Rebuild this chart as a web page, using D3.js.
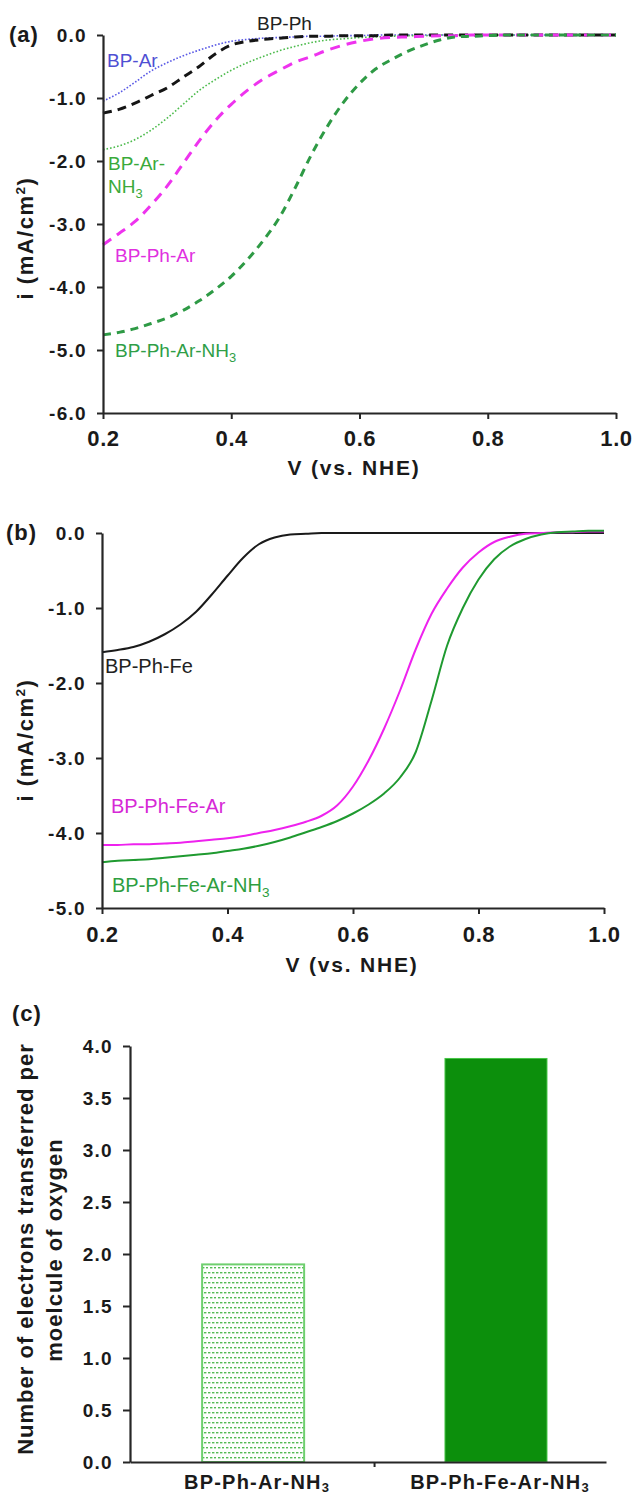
<!DOCTYPE html>
<html>
<head>
<meta charset="utf-8">
<script src="https://cdn.jsdelivr.net/npm/d3@7"></script>
<style>
  body { margin: 0; background: #fff; }
  svg { display: block; }
  text { font-family: Arial, "Liberation Sans", Helvetica, sans-serif; }
</style>
</head>
<body>
<svg id="fig" width="632" height="1496"></svg>
<script>
// ---------- data ----------
// Potential grid (V vs. NHE) shared by all polarisation curves
const voltage = [0.2, 0.225, 0.25, 0.275, 0.3, 0.325, 0.35, 0.375, 0.4, 0.425, 0.45,
  0.475, 0.5, 0.525, 0.55, 0.575, 0.6, 0.625, 0.65, 0.675, 0.7, 0.725, 0.75, 0.775,
  0.8, 0.825, 0.85, 0.875, 0.9, 0.925, 0.95, 0.975, 1.0];

// (a) current density, mA/cm2
const iBpPh = [-1.24, -1.18, -1.08, -0.96, -0.84, -0.67, -0.50, -0.30, -0.16, -0.10, -0.07,
  -0.05, -0.03, -0.02, -0.02, -0.01, -0.01, -0.01, 0, 0, 0, 0, 0, 0, 0, 0, 0, 0, 0, 0, 0, 0, 0];
const iBpAr = [-1.05, -0.92, -0.75, -0.57, -0.44, -0.33, -0.24, -0.16, -0.10, -0.07, -0.05,
  -0.04, -0.03, -0.02, -0.02, -0.01, -0.01, 0, 0, 0, 0, 0, 0, 0, 0, 0, 0, 0, 0, 0, 0, 0, 0];
const iBpArNH3 = [-1.82, -1.76, -1.66, -1.51, -1.32, -1.10, -0.88, -0.71, -0.56, -0.44, -0.34,
  -0.25, -0.18, -0.12, -0.08, -0.06, -0.04, -0.03, -0.02, -0.01, -0.01, 0, 0, 0, 0, 0, 0, 0, 0, 0, 0, 0, 0];
const iBpPhAr = [-3.33, -3.15, -2.96, -2.70, -2.40, -2.04, -1.68, -1.36, -1.10, -0.88, -0.70,
  -0.56, -0.43, -0.34, -0.24, -0.16, -0.10, -0.06, -0.04, -0.03, -0.02, -0.01, -0.01, 0, 0, 0, 0, 0, 0, 0, 0, 0, 0];
const iBpPhArNH3 = [-4.76, -4.72, -4.66, -4.58, -4.49, -4.37, -4.22, -4.04, -3.83, -3.57, -3.26,
  -2.90, -2.42, -1.90, -1.45, -1.07, -0.77, -0.54, -0.39, -0.26, -0.16, -0.08, -0.03, -0.02, -0.01, 0, 0, 0, 0, 0, 0, 0, 0];

// (b) current density, mA/cm2
const iBpPhFe = [-1.59, -1.56, -1.52, -1.45, -1.35, -1.22, -1.05, -0.82, -0.57, -0.33, -0.15,
  -0.06, -0.02, -0.01, 0, 0, 0, 0, 0, 0, 0, 0, 0, 0, 0, 0, 0, 0, 0, 0, 0, 0, 0];
const iBpPhFeAr = [-4.16, -4.16, -4.15, -4.15, -4.14, -4.13, -4.11, -4.09, -4.07, -4.04, -4.00,
  -3.96, -3.91, -3.85, -3.77, -3.63, -3.38, -3.03, -2.60, -2.10, -1.55, -1.08, -0.74, -0.46,
  -0.26, -0.12, -0.05, -0.01, 0, 0.01, 0.01, 0.02, 0.02];
const iBpPhFeArNH3 = [-4.39, -4.37, -4.36, -4.35, -4.33, -4.31, -4.29, -4.27, -4.24, -4.21, -4.17,
  -4.12, -4.06, -3.99, -3.92, -3.84, -3.74, -3.62, -3.47, -3.26, -2.92, -2.24, -1.50, -1.00,
  -0.62, -0.35, -0.18, -0.08, -0.02, 0.01, 0.02, 0.03, 0.03];

// (c) electrons transferred per O2 molecule
const barCategories = ["BP-Ph-Ar-NH3", "BP-Ph-Fe-Ar-NH3"];
const barValues = [1.90, 3.88];

// tick values
const xTicksV = [0.2, 0.4, 0.6, 0.8, 1.0];
const yTicksA = [0, -1, -2, -3, -4, -5, -6];
const yTicksB = [0, -1, -2, -3, -4, -5];
const yTicksC = [0, 0.5, 1, 1.5, 2, 2.5, 3, 3.5, 4];

// ---------- drawing ----------
const svg = d3.select("#fig");
svg.append("rect").attr("width", 632).attr("height", 1496).attr("fill", "#fff");

const AXIS = "#262626";
const fmt1 = d => d.toFixed(1);

function styleAxis(g, fontSize, spacing) {
  g.select(".domain").attr("stroke", AXIS).attr("stroke-width", 2.2);
  g.selectAll(".tick line").attr("stroke", AXIS).attr("stroke-width", 2);
  g.selectAll(".tick text")
    .attr("fill", "#1a1a1a")
    .attr("font-weight", "bold")
    .attr("font-size", fontSize)
    .attr("letter-spacing", spacing + "px")
    .attr("font-family", "Arial, 'Liberation Sans', sans-serif");
}

// text with an optional trailing subscript 3 on NH3
function chemText(sel, label, subSize, subDy) {
  const m = label.match(/^(.*NH)3$/);
  if (m) {
    sel.append("tspan").text(m[1]);
    sel.append("tspan").attr("font-size", subSize).attr("dy", subDy).text("3");
  } else {
    sel.text(label);
  }
  return sel;
}

function yTitle(x, y, size) {
  const t = svg.append("text")
    .attr("transform", `translate(${x},${y}) rotate(-90)`)
    .attr("text-anchor", "middle")
    .attr("font-weight", "bold")
    .attr("font-size", size)
    .attr("letter-spacing", "1.5px")
    .attr("fill", "#1a1a1a");
  t.append("tspan").text("i (mA/cm");
  t.append("tspan").attr("font-size", size * 0.62).attr("dy", -8).text("2");
  t.append("tspan").attr("dy", 8).text(")");
}

function xTitle(x, y) {
  svg.append("text")
    .attr("x", x).attr("y", y)
    .attr("text-anchor", "middle")
    .attr("font-weight", "bold")
    .attr("font-size", 21)
    .attr("letter-spacing", "1.8px")
    .attr("fill", "#1a1a1a")
    .text("V (vs. NHE)");
}

function panelTag(x, y, s) {
  svg.append("text").attr("x", x).attr("y", y)
    .attr("font-weight", "bold").attr("font-size", 22).attr("letter-spacing", "1px")
    .attr("fill", "#1a1a1a").text(s);
}

function curvePanel(cfg) {
  const x = d3.scaleLinear().domain([0.2, 1.0]).range(cfg.xr);
  const y = d3.scaleLinear().domain(cfg.yd).range(cfg.yr);
  const line = d3.line()
    .x((d, i) => x(voltage[i]))
    .y(d => y(d))
    .curve(d3.curveMonotoneX);

  const g = svg.append("g");
  cfg.series.forEach(s => {
    g.append("path")
      .attr("d", line(s.values))
      .attr("fill", "none")
      .attr("stroke", s.color)
      .attr("stroke-width", s.width)
      .attr("stroke-dasharray", s.dash || null);
  });

  const ax = svg.append("g")
    .attr("transform", `translate(0,${cfg.yr[0]})`)
    .call(d3.axisBottom(x).tickValues(xTicksV).tickFormat(fmt1)
      .tickSize(6).tickSizeOuter(0).tickPadding(cfg.xPad));
  styleAxis(ax, 22, 0.6);

  const ay = svg.append("g")
    .attr("transform", `translate(${cfg.xr[0]},0)`)
    .call(d3.axisLeft(y).tickValues(cfg.yTicks).tickFormat(fmt1)
      .tickSize(6).tickSizeOuter(0).tickPadding(10));
  styleAxis(ay, 19, 1.3);

  cfg.labels.forEach(l => {
    const t = svg.append("text")
      .attr("x", l.x).attr("y", l.y)
      .attr("font-size", cfg.labelFont)
      .attr("fill", l.color);
    chemText(t, l.text, cfg.labelFont * 0.68, 5);
  });
}

// ----- panel (a) -----
curvePanel({
  xr: [103, 616], yd: [-6, 0], yr: [413, 35], yTicks: yTicksA, xPad: 11,
  labelFont: 19,
  series: [
    { values: iBpAr, color: "#5a5ae6", width: 1.6, dash: "1.6,1.8" },
    { values: iBpArNH3, color: "#4cbb4c", width: 1.6, dash: "1.6,2" },
    { values: iBpPh, color: "#151515", width: 3, dash: "9,6" },
    { values: iBpPhAr, color: "#ee33ee", width: 3, dash: "10,7" },
    { values: iBpPhArNH3, color: "#2e9a45", width: 3, dash: "8,6" }
  ],
  labels: [
    { text: "BP-Ph", x: 257, y: 30, color: "#222" },
    { text: "BP-Ar", x: 107, y: 67, color: "#4f4fd3" },
    { text: "BP-Ar-", x: 108, y: 170, color: "#3aaa3a" },
    { text: "NH3", x: 108, y: 193, color: "#3aaa3a" },
    { text: "BP-Ph-Ar", x: 115, y: 262, color: "#e030e0" },
    { text: "BP-Ph-Ar-NH3", x: 115, y: 357, color: "#2f9e47" }
  ]
});
yTitle(33, 238, 22);
xTitle(354, 475);
panelTag(9, 42, "(a)");

// ----- panel (b) -----
curvePanel({
  xr: [102, 604], yd: [-5, 0], yr: [908, 533], yTicks: yTicksB, xPad: 12,
  labelFont: 20,
  series: [
    { values: iBpPhFe, color: "#1a1a1a", width: 2 },
    { values: iBpPhFeAr, color: "#ee22ee", width: 2 },
    { values: iBpPhFeArNH3, color: "#1f9a30", width: 2 }
  ],
  labels: [
    { text: "BP-Ph-Fe", x: 105, y: 673, color: "#222" },
    { text: "BP-Ph-Fe-Ar", x: 111, y: 813, color: "#d628d6" },
    { text: "BP-Ph-Fe-Ar-NH3", x: 112, y: 892, color: "#2e9e40" }
  ]
});
yTitle(33, 740, 22);
xTitle(352, 972);
panelTag(6, 540, "(b)");

// ----- panel (c) -----
const defs = svg.append("defs");
const pat = defs.append("pattern").attr("id", "dotFill")
  .attr("patternUnits", "userSpaceOnUse").attr("width", 8).attr("height", 10);
pat.append("rect").attr("width", 8).attr("height", 10).attr("fill", "#fff");
[[0, 2], [4, 2], [2, 7], [6, 7]].forEach(p => {
  pat.append("rect").attr("x", p[0]).attr("y", p[1]).attr("width", 2.4).attr("height", 1.4)
    .attr("fill", "#55bb55");
});

const xc = d3.scaleBand().domain(barCategories).range([130, 606])
  .paddingInner(0.58).paddingOuter(0.27).align(0.55);
const yc = d3.scaleLinear().domain([0, 4]).range([1462, 1046]);

const barFills = ["url(#dotFill)", "#0c8f0c"];
const barStrokes = ["#6fcf6f", "#46c646"];
svg.append("g").selectAll("rect.bar").data(barValues).join("rect")
  .attr("class", "bar")
  .attr("x", (d, i) => xc(barCategories[i]))
  .attr("width", xc.bandwidth())
  .attr("y", d => yc(d))
  .attr("height", d => yc(0) - yc(d))
  .attr("fill", (d, i) => barFills[i])
  .attr("stroke", (d, i) => barStrokes[i])
  .attr("stroke-width", (d, i) => i === 0 ? 2 : 1);

const ayc = svg.append("g").attr("transform", "translate(130,0)")
  .call(d3.axisLeft(yc).tickValues(yTicksC).tickFormat(fmt1)
    .tickSize(7).tickSizeOuter(0).tickPadding(10));
styleAxis(ayc, 19, 1.3);

// category axis: baseline plus a divider tick between the two groups
const axc = svg.append("g").attr("transform", `translate(0,${yc(0)})`)
  .call(d3.axisBottom(xc).tickSize(0).tickSizeOuter(0).tickFormat(""));
axc.select(".domain").attr("stroke", AXIS).attr("stroke-width", 2.2);
const divX = (xc(barCategories[0]) + xc.bandwidth() + xc(barCategories[1])) / 2;
svg.append("line").attr("x1", divX).attr("x2", divX)
  .attr("y1", yc(0)).attr("y2", yc(0) + 5).attr("stroke", AXIS).attr("stroke-width", 2);

barCategories.forEach(c => {
  const t = svg.append("text")
    .attr("x", xc(c) + xc.bandwidth() / 2 + 4)
    .attr("y", 1489)
    .attr("text-anchor", "middle")
    .attr("font-weight", "bold")
    .attr("font-size", 20)
    .attr("letter-spacing", "1.2px")
    .attr("fill", "#1a1a1a");
  chemText(t, c, 13, 3);
});

const yTitleC = svg.append("g").attr("font-weight", "bold").attr("font-size", 22)
  .attr("letter-spacing", "1px").attr("fill", "#1a1a1a").attr("text-anchor", "middle");
yTitleC.append("text").attr("transform", "translate(33,1249) rotate(-90)")
  .text("Number of electrons transferred per");
yTitleC.append("text").attr("transform", "translate(62,1250) rotate(-90)")
  .text("moelcule of oxygen");
panelTag(12, 1021, "(c)");
</script>
</body>
</html>
